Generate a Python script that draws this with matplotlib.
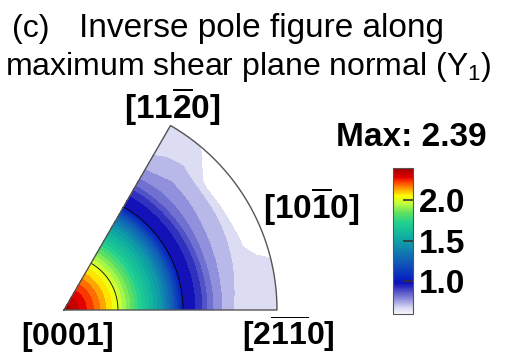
import numpy as np
import matplotlib
matplotlib.use("Agg")
import matplotlib.pyplot as plt
from matplotlib.colors import LinearSegmentedColormap, Normalize
from matplotlib.colorbar import ColorbarBase

plt.rcParams['font.family'] = ['Liberation Sans', 'DejaVu Sans']
plt.rcParams['mathtext.fontset'] = 'custom'
plt.rcParams['mathtext.rm'] = 'Liberation Sans'
plt.rcParams['mathtext.bf'] = 'Liberation Sans:bold'
plt.rcParams['mathtext.it'] = 'Liberation Sans:italic'

# ---------------- data ----------------
# radial positions (fraction of stereographic radius) and angles (deg from [2-1-10] toward [11-20])
r_frac = np.array([0, 27, 54, 70, 85, 97, 108, 119, 131, 138, 143,
                   149, 158, 169, 180, 190, 200, 213]) / 213.0
theta_deg = np.array([0, 10, 20, 30, 40, 50, 60])
inner_vals = [2.39, 2.22, 2.00, 1.80, 1.60, 1.45, 1.25, 1.00, 0.95, 0.90, 0.85]
outer_0 = [0.800, 0.750, 0.700, 0.685, 0.678, 0.674, 0.670]
outer_10 = [0.800, 0.750, 0.705, 0.687, 0.675, 0.667, 0.660]
outer_20 = [0.800, 0.755, 0.715, 0.690, 0.648, 0.638, 0.635]
outer_30 = [0.805, 0.760, 0.725, 0.695, 0.635, 0.620, 0.620]
outer_40 = [0.810, 0.770, 0.735, 0.700, 0.630, 0.620, 0.625]
outer_50 = [0.815, 0.775, 0.745, 0.720, 0.690, 0.665, 0.648]
outer_60 = [0.810, 0.765, 0.720, 0.697, 0.688, 0.682, 0.678]
density = np.array([inner_vals + o for o in
                    [outer_0, outer_10, outer_20, outer_30, outer_40, outer_50, outer_60]])

vmin, vmax = 0.60, 2.39
max_label = "Max: 2.39"
cbar_ticks = [1.0, 1.5, 2.0]
line_levels = [1.0, 2.0]

# colour scale anchors (value, colour)
cmap_vals = [0.60, 0.67, 0.725, 0.775, 0.825, 0.875, 0.925, 0.975, 1.05, 1.20,
             1.38, 1.55, 1.72, 1.84, 1.96, 2.05, 2.15, 2.22, 2.28, 2.39]
cmap_cols = ['#f4f4fc', '#dcdcf2', '#b4b4e8', '#9090dc', '#7070d0', '#5050c8',
             '#3030c0', '#1010b8', '#0828c0', '#1050b8', '#1080b0', '#10b0a0',
             '#20d090', '#60e060', '#c0ff40', '#ffff00', '#ff9000', '#ff4000',
             '#e00000', '#a00000']

# ---------------- figure ----------------
W, H = 508, 353
fig = plt.figure(figsize=(W / 100, H / 100), dpi=100)

apex_px = (64, 310)
R_px = 213
ax = fig.add_axes([0, 0, 1, 1])
ax.set_xlim(-apex_px[0] / R_px, (W - apex_px[0]) / R_px)
ax.set_ylim(-(H - apex_px[1]) / R_px, apex_px[1] / R_px)
ax.axis('off')

cmap = LinearSegmentedColormap.from_list(
    'ipf', list(zip([(v - vmin) / (vmax - vmin) for v in cmap_vals], cmap_cols)))
norm = Normalize(vmin, vmax)

# render grid in polar coordinates
tf = np.linspace(0, 60, 241)
rf = np.linspace(0, 1, 400)
tmp = np.array([np.interp(rf, r_frac, row) for row in density])      # (nθ, nr)
Z = np.array([np.interp(tf, theta_deg, tmp[:, j]) for j in range(len(rf))]).T
RR, TT = np.meshgrid(rf, np.radians(tf))
X, Y = RR * np.cos(TT), RR * np.sin(TT)

levels = np.arange(0.65, 2.4001, 0.05)
ax.contourf(X, Y, Z, levels=levels, cmap=cmap, norm=norm)
ax.contour(X, Y, Z, levels=line_levels, colors='k', linewidths=0.6)

# wedge outline
ta = np.radians(np.linspace(0, 60, 200))
ox = np.concatenate([[0], np.cos(ta), [0]])
oy = np.concatenate([[0], np.sin(ta), [0]])
ax.plot(ox, oy, color='#555555', lw=1.0, solid_joinstyle='miter')

def ftext(x, y, s, **kw):
    fig.text(x / W, 1 - y / H, s, **kw)

# titles
ftext(12, 37, "(c)", fontsize=23, va='baseline', ha='left')
ftext(79, 37, "Inverse pole figure along", fontsize=24, va='baseline', ha='left')
ftext(5, 75, r"maximum shear plane normal (Y$_1$)", fontsize=23, va='baseline', ha='left')

# direction labels
lab_kw = dict(fontsize=24, fontweight='bold', va='baseline', ha='center')
ftext(172, 119, r"$\mathbf{[11\overline{2}0]}$", **lab_kw)
ftext(311, 219, r"$\mathbf{[10\overline{1}0]}$", **lab_kw)
bot_kw = dict(lab_kw, fontsize=23)
ftext(67, 345, r"$\mathbf{[0001]}$", **bot_kw)
ftext(288, 345, r"$\mathbf{[2\overline{1}\overline{1}0]}$", **bot_kw)
ftext(411, 146, max_label, fontsize=24, fontweight='bold', va='baseline', ha='center')

# colour bar
cax = fig.add_axes([393 / W, 1 - 314 / H, 20 / W, 146 / H])
cb = ColorbarBase(cax, cmap=cmap, norm=norm, orientation='vertical', ticks=cbar_ticks)
cb.outline.set_edgecolor('#555555')
cb.outline.set_linewidth(0.8)
cax.tick_params(direction='in', length=7, width=1.2, color='#333333', pad=4,
                labelsize=24)
cax.set_yticklabels([f"{t:.1f}" for t in cbar_ticks], fontweight='bold')

fig.savefig("out.png", dpi=100)
